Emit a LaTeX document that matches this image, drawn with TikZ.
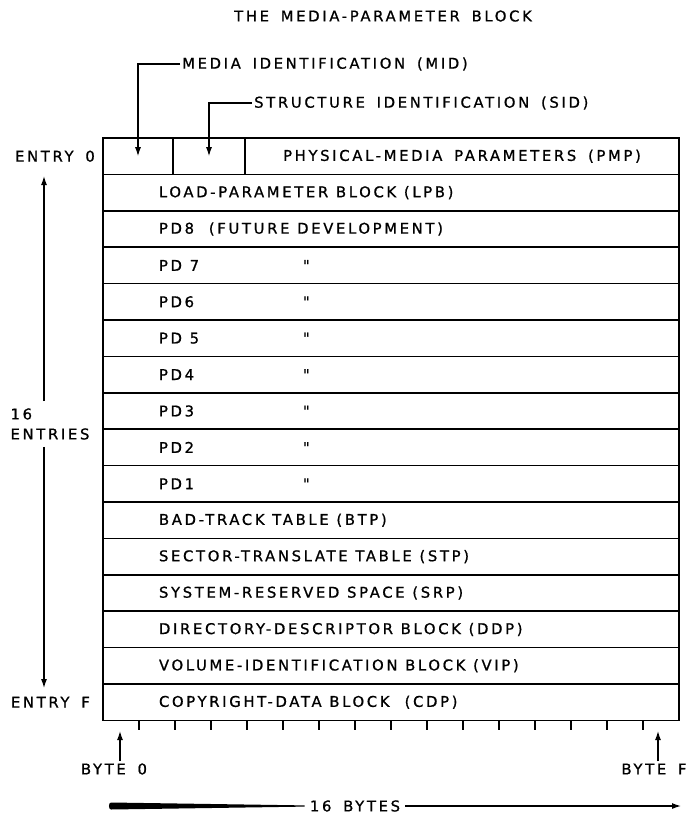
\documentclass[tikz,border=0pt]{standalone}
\usepackage{fontspec}
\setmainfont{DejaVu Sans}[LetterSpace=18,WordSpace=1.6,FakeBold=0.9]
\newfontfamily\dittofont{DejaVu Sans}[FakeBold=0.9]
\usetikzlibrary{arrows.meta,positioning,calc}
\tikzset{
  cellbox/.style={draw,line width=1.5pt,minimum height=36.4pt,inner sep=0pt,outer sep=0pt},
  rowbox/.style={draw,line width=1.5pt,minimum height=36.4pt,inner xsep=56pt,inner ysep=0pt,
                 outer sep=0pt,text width=464pt,
                 execute at begin node={\spaceskip=.52em plus .1em\relax}},
  lbl/.style={inner sep=2pt},
  arr/.style={-{Latex[length=9pt,width=6pt]},line width=1.2pt},
  tck/.style={line width=1.3pt},
}
\newcommand{\ditto}[1]{\makebox[144pt][l]{#1}{\dittofont"}}

\begin{document}
\begin{tikzpicture}[x=1pt,y=-1pt,font=\fontsize{14.8}{20}\selectfont]
  \useasboundingbox (0,0) rectangle (689,815);
  \node[lbl] (title) at (383,16) {THE MEDIA-PARAMETER BLOCK};
  % entry 0 is split in three
  \node[cellbox,minimum width=70pt,anchor=north west] (mid) at (103,138) {};
  \node[cellbox,minimum width=72pt,right=0pt of mid] (sid) {};
  \node[cellbox,minimum width=434pt,right=0pt of sid] (pmp) {PHYSICAL-MEDIA PARAMETERS (PMP)};
  \node[rowbox,anchor=north west] (r1) at (mid.south west) {LOAD-PARAMETER BLOCK (LPB)};
  \node[rowbox,below=0pt of r1] (r2) {PD8\hspace{1em}(FUTURE DEVELOPMENT)};
  \node[rowbox,below=0pt of r2] (r3) {\ditto{PD 7}};
  \node[rowbox,below=0pt of r3] (r4) {\ditto{PD6}};
  \node[rowbox,below=0pt of r4] (r5) {\ditto{PD 5}};
  \node[rowbox,below=0pt of r5] (r6) {\ditto{PD4}};
  \node[rowbox,below=0pt of r6] (r7) {\ditto{PD3}};
  \node[rowbox,below=0pt of r7] (r8) {\ditto{PD2}};
  \node[rowbox,below=0pt of r8] (r9) {\ditto{PD1}};
  \node[rowbox,below=0pt of r9] (r10) {BAD-TRACK TABLE (BTP)};
  \node[rowbox,below=0pt of r10] (r11) {SECTOR-TRANSLATE TABLE (STP)};
  \node[rowbox,below=0pt of r11] (r12) {SYSTEM-RESERVED SPACE (SRP)};
  \node[rowbox,below=0pt of r12] (r13) {DIRECTORY-DESCRIPTOR BLOCK (DDP)};
  \node[rowbox,below=0pt of r13] (r14) {VOLUME-IDENTIFICATION BLOCK (VIP)};
  \node[rowbox,below=0pt of r14] (r15) {COPYRIGHT-DATA BLOCK\hspace{0.5em} (CDP)};
  % byte ticks
  \foreach \k in {1,...,15}
    \draw[tck] ($(r15.south west)+(36*\k,0)$) -- ++(0,10);

  % pointers into entry 0
  \node[lbl,anchor=west] (lmid) at (180,64) {MEDIA IDENTIFICATION (MID)};
  \node[lbl,anchor=west] (lsid) at (252,103) {STRUCTURE IDENTIFICATION (SID)};
  \draw[arr] (lmid.west) -| (mid.center);
  \draw[arr] (lsid.west) -| (sid.center);

  % left side
  \node[lbl,left=6pt of mid] (e0) {ENTRY 0};
  \node[lbl,left=11pt of r15] (ef) {ENTRY F};
  \node[lbl,align=left,inner ysep=7pt] (n16) at (50,424) {16\\ENTRIES};
  \coordinate (et) at (44,176);
  \coordinate (eb) at (44,688);
  \draw[arr] (n16.north -| et) -- (et);
  \draw[arr] (n16.south -| et) -- (eb);

  % bottom
  \node[lbl] (b0) at (114,769) {BYTE 0};
  \node[lbl] (bf) at (654,769) {BYTE F};
  \coordinate (b0t) at (120,731);
  \coordinate (bft) at (658,731);
  \draw[arr] (b0t |- b0.north) -- (b0t);
  \draw[arr] (bft |- bf.north) -- (bft);
  \node[lbl,inner xsep=5pt] (nb) at (355,806) {16 BYTES};
  \coordinate (bl) at (104,806);
  \coordinate (br) at (681,806);
  \fill ($(nb.west)+(0,-0.6)$) -- ($(bl)+(7,-3.5)$) to[out=180,in=180] ($(bl)+(7,3.5)$)
    -- ($(nb.west)+(0,0.6)$) -- cycle;
  \draw[arr] (nb.east) -- (br);
\end{tikzpicture}
\end{document}
